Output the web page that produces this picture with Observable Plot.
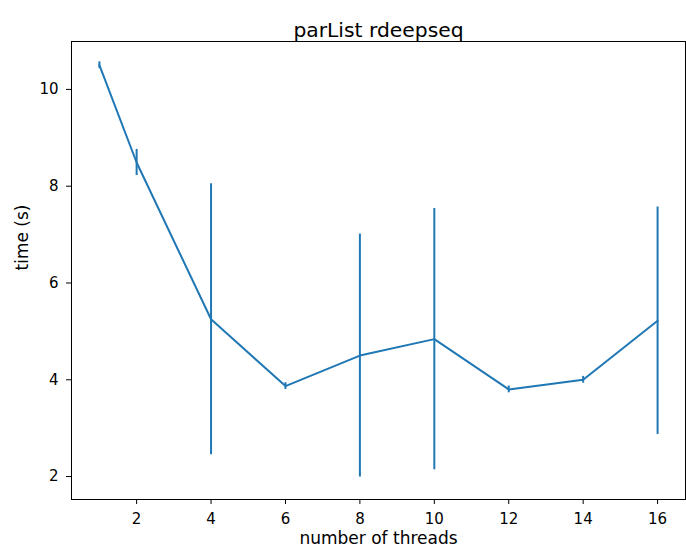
<!DOCTYPE html>
<html><head><meta charset="utf-8">
<script src="https://cdn.jsdelivr.net/npm/d3@7"></script>
<script src="https://cdn.jsdelivr.net/npm/@observablehq/plot@0.6"></script>
<style>body{margin:0;background:#fff} svg{font-family:"DejaVu Sans",sans-serif}</style>
</head><body><div id="chart"></div>
<script>
const threads = [1, 2, 4, 6, 8, 10, 12, 14, 16];
const meanTime = [10.5, 8.49, 5.25, 3.87, 4.5, 4.84, 3.8, 4.0, 5.22];
const errTime = [0.07, 0.27, 2.8, 0.07, 2.51, 2.7, 0.07, 0.07, 2.35];
const xTicks = [2, 4, 6, 8, 10, 12, 14, 16];
const yTicks = [2, 4, 6, 8, 10];
const title = "parList rdeepseq";
const xLabel = "number of threads";
const yLabel = "time (s)";

const data = threads.map((t, i) => ({t, m: meanTime[i], lo: meanTime[i] - errTime[i], hi: meanTime[i] + errTime[i]}));

const plot = Plot.plot({
  width: 686, height: 557,
  marginLeft: 71, marginRight: 1, marginTop: 41, marginBottom: 58,
  style: {fontFamily: "DejaVu Sans", fontSize: "15px", background: "white", color: "black"},
  x: {domain: [0.25, 16.75]},
  y: {domain: [1.526, 10.99]},
  marks: [
    Plot.ruleX(data, {x: "t", y1: "lo", y2: "hi", stroke: "#1f77b4", strokeWidth: 2}),
    Plot.line(data, {x: "t", y: "m", stroke: "#1f77b4", strokeWidth: 2}),
    Plot.frame({stroke: "black", strokeWidth: 1}),
    Plot.axisX({ticks: xTicks, tickSize: 5, tickPadding: 8.5, label: null, fontSize: 15, tickFormat: d => String(d)}),
    Plot.axisY({ticks: yTicks, tickSize: 5, tickPadding: 8, label: null, fontSize: 15, tickFormat: d => String(d)}),
    Plot.text([title], {frameAnchor: "top", dy: -19, text: d => d, fontSize: 20.3}),
    Plot.text([xLabel], {frameAnchor: "bottom", dy: 44, text: d => d, fontSize: 17}),
    Plot.text([yLabel], {frameAnchor: "left", dx: -49, rotate: -90, text: d => d, fontSize: 17})
  ]
});
document.getElementById("chart").append(plot);
</script>
</body></html>
